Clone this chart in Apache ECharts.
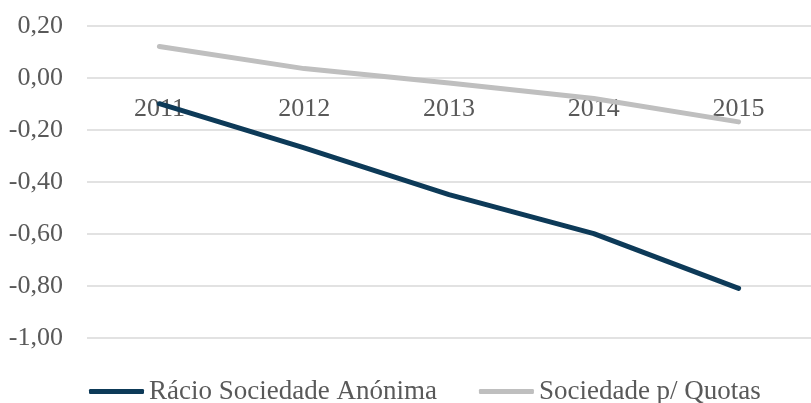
<!DOCTYPE html>
<html>
<head>
<meta charset="utf-8">
<script src="https://cdn.jsdelivr.net/npm/echarts@6/dist/echarts.min.js"></script>
<style>
  html, body { margin: 0; padding: 0; background: #ffffff; }
  #chart { width: 811px; height: 403px; }
</style>
</head>
<body>
<div id="chart"></div>
<script>
// Anos e rácios por tipo de sociedade
const years = ['2011', '2012', '2013', '2014', '2015'];
const racioSA = [-0.10, -0.27, -0.45, -0.60, -0.81];
const racioQuotas = [0.12, 0.035, -0.02, -0.08, -0.17];
const seriesNames = ['Rácio Sociedade Anónima', 'Sociedade p/ Quotas'];

const textColor = '#595959';
const fontFamily = '"Liberation Serif", "Times New Roman", serif';
const fontSize = 26;

const yMin = -1.0, yMax = 0.2;
const gridTop = 25.7, gridBottom = 65.3, chartHeight = 403;
// distance from the top of the plot down to the zero line
const zeroOffset = (chartHeight - gridTop - gridBottom) * (yMax - 0) / (yMax - yMin);

const chart = echarts.init(document.getElementById('chart'), null, { renderer: 'canvas' });

chart.setOption({
  backgroundColor: '#ffffff',
  animation: false,
  grid: { left: 87, width: 735, top: gridTop, bottom: gridBottom, containLabel: false },
  legend: {
    left: 84,
    top: 373,
    itemWidth: 55,
    itemHeight: 5,
    itemGap: 42,
    icon: 'roundRect',
    textStyle: { color: textColor, fontFamily: fontFamily, fontSize: 27 },
    data: seriesNames
  },
  xAxis: {
    type: 'category',
    data: years,
    boundaryGap: true,
    z: 0,
    // category labels hang just below the zero line
    position: 'top',
    offset: -zeroOffset,
    axisLine: { show: false, onZero: false },
    axisTick: { show: false },
    axisLabel: { inside: true, color: textColor, fontFamily: fontFamily, fontSize: fontSize, margin: 18 },
    splitLine: { show: false }
  },
  yAxis: {
    type: 'value',
    min: yMin,
    max: yMax,
    interval: 0.2,
    axisLine: { show: false },
    axisTick: { show: false },
    axisLabel: {
      color: textColor,
      fontFamily: fontFamily,
      fontSize: fontSize,
      margin: 24,
      formatter: v => v.toFixed(2).replace('.', ',')
    },
    splitLine: { lineStyle: { color: '#d9d9d9', width: 1.5 } }
  },
  series: [
    {
      name: seriesNames[0],
      type: 'line',
      data: racioSA,
      showSymbol: false,
      symbol: 'none',
      z: 3,
      color: '#0d3a58',
      lineStyle: { width: 5, cap: 'round', join: 'round' }
    },
    {
      name: seriesNames[1],
      type: 'line',
      data: racioQuotas,
      showSymbol: false,
      symbol: 'none',
      z: 3,
      color: '#bfbfbf',
      lineStyle: { width: 5, cap: 'round', join: 'round' }
    }
  ]
});
</script>
</body>
</html>
